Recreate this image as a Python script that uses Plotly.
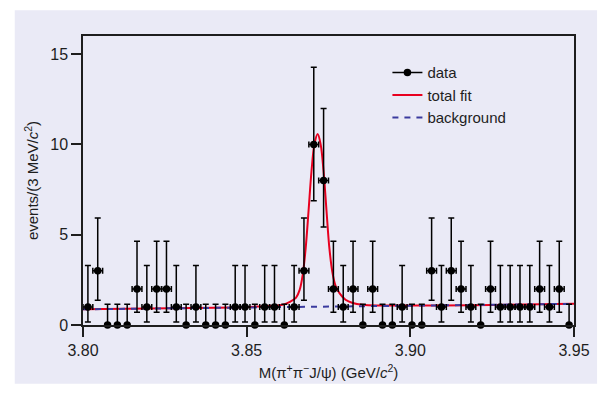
import plotly.graph_objects as go

# ---- data ----
mass_min = 3.80          # GeV/c^2, lower edge of first bin
bin_width = 0.003        # GeV/c^2 (3 MeV)
counts = [1, 3, 0, 0, 0, 2, 1, 2, 2, 1,
          0, 1, 0, 0, 0, 1, 1, 0, 1, 1,
          0, 1, 3, 10, 8, 2, 1, 2, 0, 2,
          0, 0, 1, 0, 0, 3, 1, 3, 2, 1,
          0, 2, 1, 1, 1, 1, 2, 1, 2, 0]
# Poisson interval (low, high) per count
poisson_low = {0: 0.0, 1: 0.17, 2: 0.71, 3: 1.37, 8: 5.43, 10: 6.88}
poisson_high = {0: 1.15, 1: 3.30, 2: 4.64, 3: 5.92, 8: 11.98, 10: 14.27}

# total fit curve
fit_mass = [3.800, 3.840, 3.8534, 3.8580, 3.8610, 3.8632, 3.8651, 3.8662, 3.8671,
            3.8680, 3.8689, 3.8698, 3.8707, 3.87168, 3.8726, 3.8735, 3.8744, 3.8753,
            3.8763, 3.8772, 3.8784, 3.8802, 3.8824, 3.8854, 3.8900, 3.950]
fit_val = [0.87, 0.95, 1.02, 1.06, 1.12, 1.28, 1.52, 1.95, 2.75,
           4.2, 6.3, 8.5, 10.0, 10.57, 10.0, 8.5, 6.3, 4.2,
           2.8, 2.15, 1.75, 1.40, 1.22, 1.12, 1.08, 1.17]
# linear background
bg_mass = [3.80, 3.95]
bg_val = [0.87, 1.17]

# ---- derived ----
centers = [mass_min + bin_width * (i + 0.5) for i in range(len(counts))]
nz = [i for i, c in enumerate(counts) if c > 0]
zz = [i for i, c in enumerate(counts) if c == 0]

def sub(lst, idx):
    return [lst[i] for i in idx]

up = [poisson_high[c] - c for c in counts]
dn = [c - poisson_low[c] for c in counts]

FONT = "Liberation Sans, Arial, sans-serif"
BG = "rgb(234,234,246)"
RED = "#e8001f"
BLUE = "#3a3a9e"
INK = "#1e1e1e"

fig = go.Figure()

fig.add_trace(go.Scatter(x=fit_mass, y=fit_val, mode="lines",
                         line=dict(color=RED, width=2, shape="spline", smoothing=1.0),
                         name="total fit", showlegend=False))
fig.add_trace(go.Scatter(x=bg_mass, y=bg_val, mode="lines",
                         line=dict(color=BLUE, width=2, dash="6px,6px"),
                         name="background", showlegend=False))

# non-zero bins
fig.add_trace(go.Scatter(
    x=sub(centers, nz), y=sub(counts, nz), mode="markers",
    marker=dict(color="black", size=7.5),
    error_y=dict(type="data", symmetric=False, array=sub(up, nz), arrayminus=sub(dn, nz),
                 color="black", thickness=1.5, width=3),
    error_x=dict(type="constant", value=bin_width / 2, color="black", thickness=1.5, width=3),
    cliponaxis=False, showlegend=False))
# zero bins
fig.add_trace(go.Scatter(
    x=sub(centers, zz), y=sub(counts, zz), mode="markers",
    marker=dict(color="black", size=7.5),
    error_y=dict(type="data", symmetric=False, array=sub(up, zz), arrayminus=sub(dn, zz),
                 color="black", thickness=1.5, width=3),
    cliponaxis=False, showlegend=False))

# legend entries
fig.add_trace(go.Scatter(x=[None], y=[None], mode="lines+markers", name="data",
                         line=dict(color="black", width=1.5), marker=dict(color="black", size=7.5)))
fig.add_trace(go.Scatter(x=[None], y=[None], mode="lines", name="total fit",
                         line=dict(color=RED, width=2)))
fig.add_trace(go.Scatter(x=[None], y=[None], mode="lines", name="background",
                         line=dict(color=BLUE, width=2, dash="6px,6px")))

fig.add_shape(type="rect", xref="paper", yref="paper", x0=-0.139, x1=1.047, y0=-0.203, y1=1.089,
              fillcolor=BG, line=dict(width=0), layer="below")

axis_common = dict(showline=True, linecolor=INK, linewidth=1.5, mirror=True,
                   ticks="outside", ticklen=10, tickwidth=1.5, tickcolor=INK,
                   showgrid=False, zeroline=False,
                   tickfont=dict(family=FONT, size=16, color=INK))

fig.update_layout(
    width=610, height=394,
    margin=dict(l=83, r=36, t=36, b=69),
    paper_bgcolor="white", plot_bgcolor=BG,
    font=dict(family=FONT, size=15, color=INK),
    xaxis=dict(range=[3.80, 3.95], tickvals=[3.80, 3.85, 3.90, 3.95], tickformat=".2f",
               title=dict(text="M(π<sup>+</sup>π<sup>−</sup>J/ψ) (GeV/<i>c</i><sup>2</sup>)",
                          font=dict(family=FONT, size=15, color=INK), standoff=10),
               **axis_common),
    yaxis=dict(range=[0, 16], tickvals=[0, 5, 10, 15],
               title=dict(text="events/(3 MeV/<i>c</i><sup>2</sup>)",
                          font=dict(family=FONT, size=15, color=INK), standoff=8),
               **axis_common),
    legend=dict(x=0.62, y=0.93, xanchor="left", yanchor="top", bgcolor="rgba(0,0,0,0)",
                font=dict(family=FONT, size=15, color=INK), tracegroupgap=0),
)

fig.write_html("out.html")
